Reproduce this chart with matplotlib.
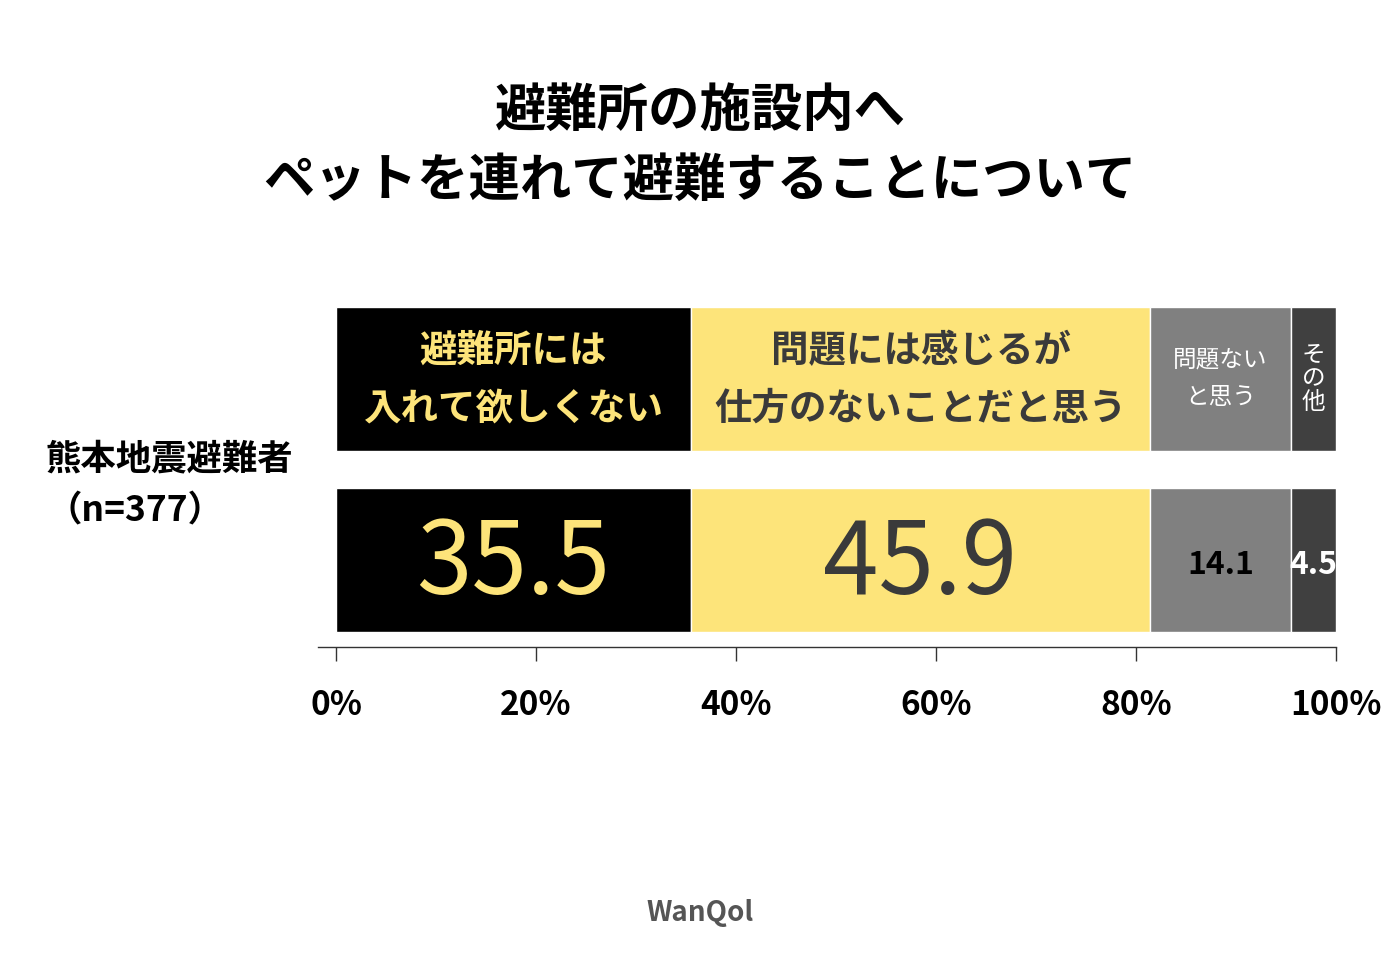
import matplotlib.pyplot as plt

plt.rcParams['font.family'] = 'Noto Sans CJK JP'

# data
categories = ['避難所には\n入れて欲しくない', '問題には感じるが\n仕方のないことだと思う', '問題ない\nと思う', 'そ\nの\n他']
values = [35.5, 45.9, 14.1, 4.5]
colors = ['#000000', '#fde47a', '#808080', '#404040']
label_colors = ['#fde47a', '#3a3a3a', '#ffffff', '#ffffff']
value_colors = ['#fde47a', '#3a3a3a', '#000000', '#ffffff']
label_sizes = [27, 27, 17, 17]
label_weights = ['bold', 'bold', 'normal', 'normal']
label_spacing = [1.6, 1.6, 1.8, 1.05]
value_sizes = [72, 72, 23, 23]
value_weights = ['normal', 'normal', 'bold', 'bold']
group = '熊本地震避難者\n（n=377）'
ticks = [0, 20, 40, 60, 80, 100]

fig = plt.figure(figsize=(14, 9.6), dpi=100)
fig.patch.set_facecolor('white')
ax = fig.add_axes([336 / 1400, 1 - 647 / 960, 1000 / 1400, 340 / 960])

left = 0
for i, (cat, v) in enumerate(zip(categories, values)):
    ax.barh(268, v, left=left, height=144, color=colors[i], edgecolor='white', linewidth=1)
    ax.barh(87, v, left=left, height=144, color=colors[i], edgecolor='white', linewidth=1)
    mid = left + v / 2
    ax.text(mid, 268, cat, ha='center', va='center', color=label_colors[i],
            fontsize=label_sizes[i], fontweight=label_weights[i], linespacing=label_spacing[i])
    ax.text(mid, 82, f'{v:.1f}', ha='center', va='center', color=value_colors[i],
            fontsize=value_sizes[i], fontweight=value_weights[i])
    left += v

ax.set_xlim(0, 100)
ax.set_ylim(0, 340)
for s in ['top', 'right', 'left', 'bottom']:
    ax.spines[s].set_visible(False)
ax.plot([-1.8, 100], [0, 0], color='#333333', lw=1, clip_on=False)
ax.set_yticks([])
ax.set_xticks(ticks)
ax.set_xticklabels([f'{t}%' for t in ticks], fontsize=24, fontweight='bold')
ax.tick_params(axis='x', direction='out', length=10, width=1, color='#333333', pad=20)

fig.text(46 / 1400, 1 - 485 / 960, group, ha='left', va='center', fontsize=25.5,
         fontweight='bold', linespacing=1.6)

fig.text(0.5, 1 - 145 / 960, '避難所の施設内へ\nペットを連れて避難することについて',
         ha='center', va='center', fontsize=37, fontweight='bold', linespacing=1.4)

fig.text(0.5, 1 - 913 / 960, 'WanQol', ha='center', va='center', fontsize=20,
         fontweight='bold', color='#555555')

fig.savefig('out.png', dpi=100)
